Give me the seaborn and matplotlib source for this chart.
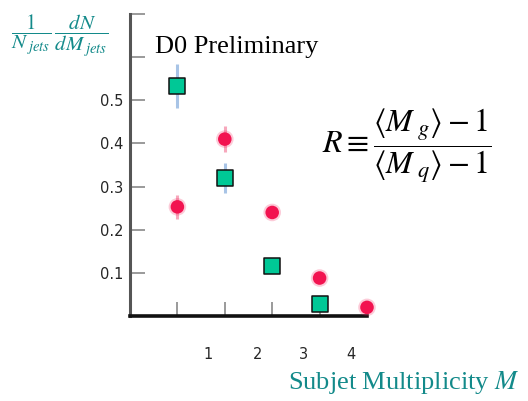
import matplotlib
matplotlib.use("Agg")
import matplotlib.pyplot as plt
import seaborn as sns
import pandas as pd

# Subjet multiplicity distributions (normalised per jet)
gluon_m = [1, 2, 3, 4]
gluon_frac = [0.533, 0.320, 0.116, 0.028]
gluon_err = [0.050, 0.035, 0.010, 0.006]

quark_m = [1, 2, 3, 4, 5]
quark_frac = [0.253, 0.410, 0.240, 0.088, 0.020]
quark_err = [0.028, 0.030, 0.010, 0.008, 0.005]

x_tick_labels = ["1", "2", "3", "4"]
y_tick_values = [0.1, 0.2, 0.3, 0.4, 0.5, 0.6, 0.7]
y_tick_labels = ["0.1", "0.2", "0.3", "0.4", "0.5", "", ""]

sns.set_theme(style="white")
plt.rcParams["mathtext.fontset"] = "stix"
plt.rcParams["font.family"] = ["DejaVu Sans"]

teal = "#138A8A"
sq_color = "#00C896"
dot_color = "#F21350"

fig = plt.figure(figsize=(5.28, 4.01), dpi=100)
ax = fig.add_axes([130 / 528, (401 - 316) / 401, (367 - 130) / 528, (316 - 14) / 401])

gluons = pd.DataFrame({"M": gluon_m, "frac": gluon_frac, "err": gluon_err})
quarks = pd.DataFrame({"M": quark_m, "frac": quark_frac, "err": quark_err})

ax.errorbar(gluons["M"], gluons["frac"], yerr=gluons["err"], fmt="none",
            ecolor="#A8C4E6", elinewidth=2.2, capsize=0, zorder=2, clip_on=False)
ax.errorbar(quarks["M"], quarks["frac"], yerr=quarks["err"], fmt="none",
            ecolor="#F7A8BC", elinewidth=2.2, capsize=0, zorder=2, clip_on=False)

# soft halo behind the round markers
sns.scatterplot(data=quarks, x="M", y="frac", ax=ax, s=160, color=dot_color,
                edgecolor="none", alpha=0.22, linewidth=0, zorder=3, clip_on=False)
sns.scatterplot(data=quarks, x="M", y="frac", ax=ax, s=95, color=dot_color,
                edgecolor="none", linewidth=0, zorder=4, clip_on=False)
sns.scatterplot(data=gluons, x="M", y="frac", ax=ax, marker="s", s=135,
                color=sq_color, edgecolor="#111111", linewidth=1.1, zorder=5,
                clip_on=False)

ax.set_xlim(0, 5)
ax.set_ylim(0, 0.7)

# tick marks at integer multiplicities, labels drawn slightly to the right
ax.set_xticks([1, 2, 3, 4], minor=True)
ax.set_xticks([1.64, 2.70, 3.66, 4.66])
ax.set_xticklabels(x_tick_labels, fontsize=10.5)
ax.tick_params(axis="x", which="major", length=0, pad=22)
ax.tick_params(axis="x", which="minor", direction="in", length=10, width=1.4,
               color="#9A9A9A", bottom=True)

ax.set_yticks(y_tick_values)
ax.set_yticklabels(y_tick_labels, fontsize=10.5)
ax.tick_params(axis="y", which="major", direction="in", length=11, width=1.4,
               color="#9A9A9A", pad=5, left=True)

for side in ("top", "right"):
    ax.spines[side].set_visible(False)
ax.spines["left"].set_color("#555555")
ax.spines["left"].set_linewidth(2.2)
ax.spines["bottom"].set_color("#111111")
ax.spines["bottom"].set_linewidth(2.6)
ax.set_xlabel("")
ax.set_ylabel("")
ax.grid(False)

fig.text(155 / 528, 1 - 47 / 401, "D0 Preliminary", fontsize=19,
         family="Liberation Serif", color="black", ha="left", va="center")

fig.text(60 / 528, 1 - 36 / 401,
         r"$\dfrac{1}{N_{\;jets}}\,\dfrac{dN}{dM_{\;jets}}$",
         fontsize=15, color=teal, ha="center", va="center")

fig.text(407 / 528, 1 - 146 / 401,
         r"$R \equiv \dfrac{\left\langle M_{\;g} \right\rangle - 1}{\left\langle M_{\;q} \right\rangle - 1}$",
         fontsize=23, color="black", ha="center", va="center")

fig.text(520 / 528, 1 - 382 / 401, r"Subjet Multiplicity $M$", fontsize=19,
         family="Liberation Serif", color=teal, ha="right", va="center")

fig.savefig("out.png", dpi=100)
